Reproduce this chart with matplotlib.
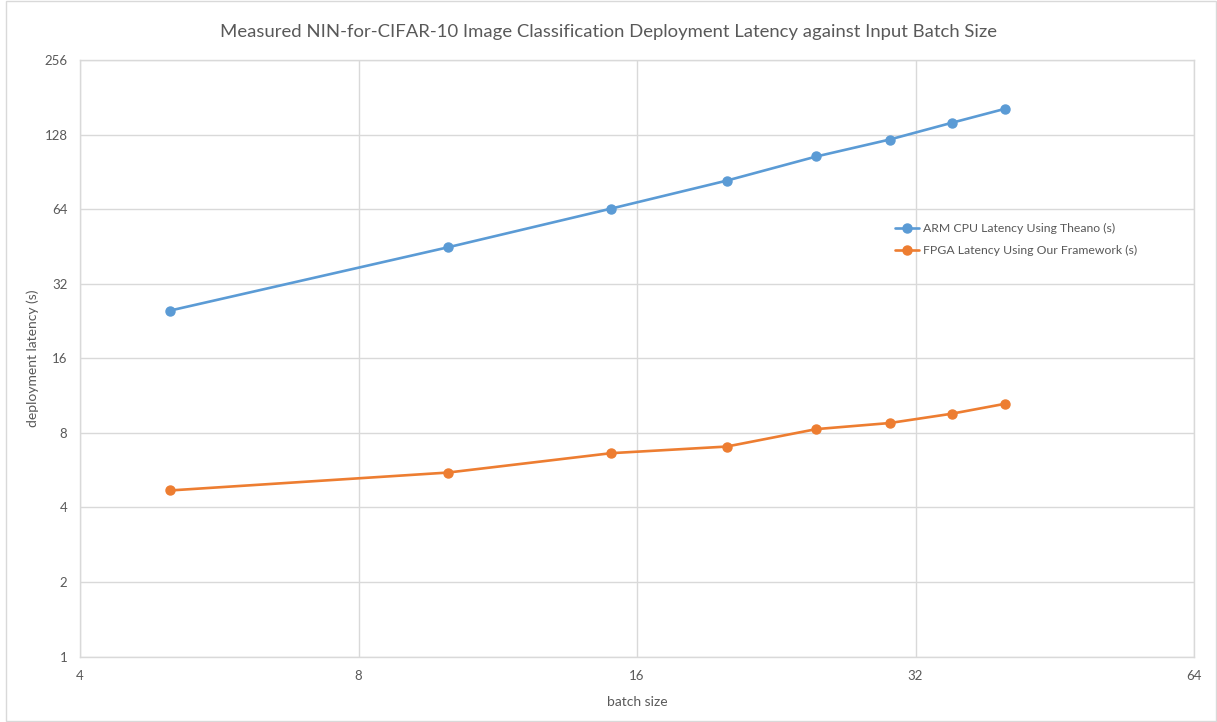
import matplotlib
matplotlib.use("Agg")
import matplotlib.pyplot as plt
from matplotlib.patches import Rectangle
from matplotlib.ticker import FixedLocator, FixedFormatter, NullLocator

# Batch sizes and measured latencies (seconds)
batch_sizes = [5, 10, 15, 20, 25, 30, 35, 40]
arm_cpu_latency = [24.9, 44.9, 64.3, 83.4, 104.4, 122.2, 142.7, 162.7]
fpga_latency = [4.68, 5.53, 6.62, 7.04, 8.28, 8.76, 9.55, 10.48]

x_ticks = [4, 8, 16, 32, 64]
y_ticks = [1, 2, 4, 8, 16, 32, 64, 128, 256]

title = "Measured NIN-for-CIFAR-10 Image Classification Deployment Latency against Input Batch Size"
series_names = ["ARM CPU Latency Using Theano (s)", "FPGA Latency Using Our Framework (s)"]

blue = "#5B9BD5"
orange = "#ED7D31"
text_gray = "#595959"
grid_gray = "#D9D9D9"

plt.rcParams["font.family"] = ["Lato", "DejaVu Sans"]

fig = plt.figure(figsize=(12.17, 7.22), dpi=100)
fig.patch.set_facecolor("white")
ax = fig.add_axes([80 / 1217, 1 - 656.5 / 722, (1194 - 80) / 1217, (656.5 - 60) / 722])

ax.plot(batch_sizes, arm_cpu_latency, color=blue, lw=1.9, marker="o", ms=6.5,
        label=series_names[0], solid_capstyle="round")
ax.plot(batch_sizes, fpga_latency, color=orange, lw=1.9, marker="o", ms=6.5,
        label=series_names[1], solid_capstyle="round")

ax.set_xscale("log", base=2)
ax.set_yscale("log", base=2)
ax.set_xlim(4, 64)
ax.set_ylim(1, 256)

ax.xaxis.set_major_locator(FixedLocator(x_ticks))
ax.xaxis.set_major_formatter(FixedFormatter([str(v) for v in x_ticks]))
ax.yaxis.set_major_locator(FixedLocator(y_ticks))
ax.yaxis.set_major_formatter(FixedFormatter([str(v) for v in y_ticks]))
ax.xaxis.set_minor_locator(NullLocator())
ax.yaxis.set_minor_locator(NullLocator())

ax.grid(True, which="major", color=grid_gray, lw=1.0)
ax.set_axisbelow(True)
for side in ["left", "right", "top", "bottom"]:
    ax.spines[side].set_color(grid_gray)
    ax.spines[side].set_linewidth(1.0)

ax.tick_params(axis="both", length=0, colors=text_gray, labelsize=9.5)
ax.tick_params(axis="y", pad=9)
ax.tick_params(axis="x", pad=10)

ax.set_xlabel("batch size", color=text_gray, fontsize=10, labelpad=10)
ax.set_ylabel("deployment latency (s)", color=text_gray, fontsize=10, labelpad=4)

fig.text(0.5, 1 - 32 / 722, title, ha="center", va="center",
         fontsize=13.3, color=text_gray)

leg = ax.legend(loc="upper left", bbox_to_anchor=((884 - 80) / 1114, (656.5 - 212) / 596.5),
                frameon=False, fontsize=8.8, labelcolor=text_gray,
                handlelength=2.0, handletextpad=0.3, labelspacing=0.9)

# Outer chart border
fig.add_artist(Rectangle((6 / 1217, 1 / 722), 1210 / 1217, 720 / 722,
                         transform=fig.transFigure, fill=False,
                         edgecolor=grid_gray, lw=1.0))

fig.savefig("out.png", dpi=100, facecolor="white")
